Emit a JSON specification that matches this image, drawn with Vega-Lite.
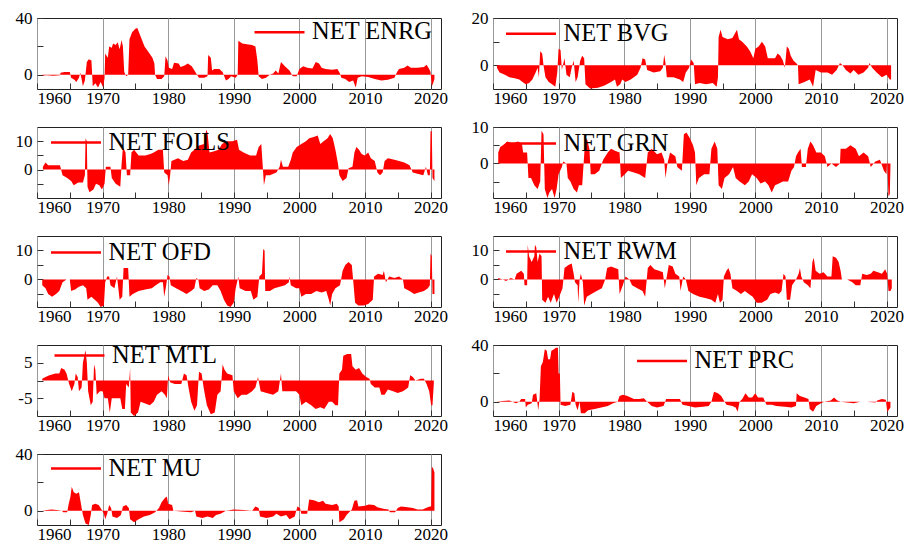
{
"$schema":"https://vega.github.io/schema/vega-lite/v6.json",
"background":"white",
"padding":{"left":14,"top":5,"right":5,"bottom":2},
"config":{
 "view":{"stroke":"#222","strokeWidth":1},
 "font":"Liberation Serif",
 "axis":{"labelFont":"Liberation Serif","labelFontSize":17,"labelColor":"#000","domain":false,"tickColor":"#333","tickSize":-6,"title":null,"grid":false},
 "axisX":{"labelPadding":7},
 "axisY":{"labelPadding":11},
 "legend":{"orient":"none","title":null,"symbolType":"stroke","symbolSize":2500,"symbolStrokeWidth":2.5,"labelFont":"Liberation Serif","labelFontSize":24.5,"labelColor":"#000","labelOffset":6,"padding":0,"labelLimit":300}
},
"resolve":{"scale":{"color":"independent","y":"independent"},"legend":{"color":"independent"}},
"datasets":{
"ENRG":[{"t":1960.8,"v":-0.5},{"t":1961.5,"v":-0.3},{"t":1962.5,"v":-0.6},{"t":1963.5,"v":-0.4},{"t":1963.6,"v":1.5},{"t":1964.2,"v":2},{"t":1965,"v":2},{"t":1965.2,"v":-2},{"t":1965.7,"v":-3.5},{"t":1966,"v":-5},{"t":1966.4,"v":-2},{"t":1966.6,"v":1.5},{"t":1966.8,"v":-3},{"t":1967,"v":-8},{"t":1967.3,"v":-4},{"t":1967.6,"v":9},{"t":1967.9,"v":11},{"t":1968.3,"v":10},{"t":1968.5,"v":-8},{"t":1968.9,"v":-6},{"t":1969.3,"v":-9},{"t":1969.7,"v":-5},{"t":1970.1,"v":-9},{"t":1970.3,"v":-2},{"t":1970.4,"v":15},{"t":1970.8,"v":12},{"t":1971,"v":20},{"t":1971.4,"v":19},{"t":1971.6,"v":22},{"t":1972,"v":21},{"t":1972.3,"v":23},{"t":1972.6,"v":18},{"t":1972.9,"v":24.5},{"t":1973.1,"v":20},{"t":1973.3,"v":2},{"t":1973.6,"v":-1},{"t":1973.9,"v":0},{"t":1974.1,"v":25},{"t":1974.5,"v":30},{"t":1975,"v":32.5},{"t":1975.3,"v":33},{"t":1975.8,"v":27},{"t":1976.4,"v":20},{"t":1977,"v":16},{"t":1977.6,"v":12},{"t":1977.9,"v":8},{"t":1978,"v":0},{"t":1978.3,"v":-3},{"t":1979,"v":-3},{"t":1979.4,"v":-1},{"t":1979.6,"v":13},{"t":1979.9,"v":10},{"t":1980.1,"v":5},{"t":1980.6,"v":4},{"t":1980.9,"v":8.5},{"t":1981.6,"v":8},{"t":1981.9,"v":5.5},{"t":1982.5,"v":6.5},{"t":1983,"v":8},{"t":1983.6,"v":6},{"t":1984,"v":3},{"t":1984.4,"v":0},{"t":1984.7,"v":-2},{"t":1985.5,"v":-2},{"t":1986,"v":-1},{"t":1986.1,"v":14},{"t":1986.5,"v":12},{"t":1986.7,"v":3},{"t":1987,"v":4},{"t":1987.8,"v":4},{"t":1988.3,"v":2},{"t":1988.8,"v":-4},{"t":1989.2,"v":-3},{"t":1989.6,"v":-1},{"t":1990.3,"v":-2},{"t":1990.6,"v":0},{"t":1990.7,"v":24},{"t":1991.3,"v":22},{"t":1992,"v":21.5},{"t":1992.8,"v":21},{"t":1993.3,"v":20},{"t":1993.6,"v":10},{"t":1993.8,"v":-1},{"t":1994.3,"v":-3},{"t":1994.9,"v":-2},{"t":1995.5,"v":0},{"t":1996,"v":1},{"t":1996.4,"v":3},{"t":1996.8,"v":1},{"t":1997.2,"v":9},{"t":1997.8,"v":6},{"t":1998.5,"v":3},{"t":1999,"v":-1},{"t":1999.6,"v":-1},{"t":2000,"v":4},{"t":2000.6,"v":6},{"t":2001.2,"v":5},{"t":2002,"v":4.5},{"t":2002.5,"v":9},{"t":2003,"v":8},{"t":2003.4,"v":5},{"t":2004,"v":4},{"t":2005,"v":3.5},{"t":2005.8,"v":4},{"t":2006.2,"v":1},{"t":2006.4,"v":-2},{"t":2007,"v":-3},{"t":2007.6,"v":-5},{"t":2008.2,"v":-4},{"t":2008.6,"v":-9},{"t":2008.9,"v":-2},{"t":2009.5,"v":-1},{"t":2010.5,"v":-1.5},{"t":2011.5,"v":-3},{"t":2012.5,"v":-4},{"t":2013.5,"v":-3.5},{"t":2014.5,"v":-2},{"t":2014.9,"v":2},{"t":2015.2,"v":4},{"t":2016,"v":5},{"t":2016.5,"v":6.5},{"t":2017,"v":5},{"t":2018,"v":5},{"t":2019,"v":5.5},{"t":2019.4,"v":7},{"t":2019.8,"v":4},{"t":2020,"v":2},{"t":2020.2,"v":-8},{"t":2020.4,"v":-6},{"t":2020.6,"v":-3}],
"BVG":[{"t":1960.6,"v":-1},{"t":1961,"v":-3},{"t":1961.8,"v":-4},{"t":1962.5,"v":-5},{"t":1963.3,"v":-5.5},{"t":1964,"v":-6},{"t":1964.5,"v":-7},{"t":1965,"v":-8},{"t":1965.5,"v":-7.5},{"t":1966,"v":-6},{"t":1966.5,"v":-3},{"t":1966.8,"v":-1},{"t":1967,"v":-5},{"t":1967.2,"v":6},{"t":1967.5,"v":5},{"t":1967.7,"v":0},{"t":1968,"v":-5},{"t":1968.5,"v":-7},{"t":1969,"v":-8},{"t":1969.5,"v":-9},{"t":1969.8,"v":-3},{"t":1970,"v":7},{"t":1970.3,"v":6.5},{"t":1970.5,"v":-2},{"t":1970.9,"v":3},{"t":1971.2,"v":-4},{"t":1971.7,"v":-5},{"t":1972,"v":-1},{"t":1972.3,"v":2},{"t":1972.6,"v":-7},{"t":1972.9,"v":-5},{"t":1973.3,"v":2},{"t":1973.6,"v":4},{"t":1973.9,"v":3},{"t":1974.1,"v":-8},{"t":1974.8,"v":-9.8},{"t":1976,"v":-9.5},{"t":1977,"v":-8.5},{"t":1978,"v":-7},{"t":1978.6,"v":-6},{"t":1978.9,"v":-9},{"t":1979.4,"v":-8},{"t":1979.7,"v":-6},{"t":1980.2,"v":-7},{"t":1981,"v":-6},{"t":1982,"v":-4},{"t":1982.5,"v":-1},{"t":1982.8,"v":3},{"t":1983.2,"v":2.5},{"t":1983.5,"v":-2},{"t":1984.5,"v":-3},{"t":1985.5,"v":-2.5},{"t":1985.9,"v":-1},{"t":1986.1,"v":4.5},{"t":1986.3,"v":1},{"t":1986.5,"v":-5},{"t":1987.5,"v":-5},{"t":1988.5,"v":-6},{"t":1989,"v":-7},{"t":1989.4,"v":-3},{"t":1989.9,"v":-1},{"t":1990.2,"v":2.5},{"t":1990.6,"v":1},{"t":1990.8,"v":-8},{"t":1991.5,"v":-7.5},{"t":1992.5,"v":-8},{"t":1993.5,"v":-7.5},{"t":1994.1,"v":-9},{"t":1994.3,"v":-5},{"t":1994.4,"v":12},{"t":1994.7,"v":15},{"t":1995,"v":12},{"t":1995.8,"v":11},{"t":1996.5,"v":11.5},{"t":1997.2,"v":15},{"t":1997.5,"v":11},{"t":1998,"v":10},{"t":1998.7,"v":8},{"t":1999.2,"v":6},{"t":1999.7,"v":3},{"t":2000,"v":7},{"t":2000.5,"v":8},{"t":2001,"v":10},{"t":2001.5,"v":8},{"t":2001.9,"v":3},{"t":2002.5,"v":3},{"t":2003,"v":3},{"t":2003.4,"v":5},{"t":2003.8,"v":4},{"t":2004.2,"v":2},{"t":2004.5,"v":-1},{"t":2004.8,"v":8},{"t":2005.1,"v":7},{"t":2005.4,"v":4},{"t":2005.8,"v":2},{"t":2006.2,"v":1},{"t":2006.5,"v":0},{"t":2006.6,"v":-8},{"t":2007.5,"v":-7},{"t":2008.3,"v":-6},{"t":2008.8,"v":-9},{"t":2009.2,"v":-2},{"t":2010,"v":-3},{"t":2011,"v":-3},{"t":2011.7,"v":-4},{"t":2012.4,"v":-2},{"t":2012.9,"v":1},{"t":2013.3,"v":0},{"t":2013.8,"v":-2},{"t":2014.5,"v":-3.5},{"t":2015,"v":-2},{"t":2015.7,"v":-4},{"t":2016.5,"v":-3},{"t":2017.2,"v":-1},{"t":2017.4,"v":1},{"t":2017.8,"v":-1},{"t":2018.5,"v":-3},{"t":2019.3,"v":-5},{"t":2020,"v":-4},{"t":2020.5,"v":-6},{"t":2020.7,"v":-6}],
"FOILS":[{"t":1960.9,"v":1},{"t":1961.3,"v":2.5},{"t":1961.7,"v":1.5},{"t":1962.5,"v":1.5},{"t":1963.5,"v":1.5},{"t":1963.9,"v":-2},{"t":1964.6,"v":-3},{"t":1965.2,"v":-4},{"t":1965.6,"v":-5.5},{"t":1966.3,"v":-4.5},{"t":1967,"v":-4.5},{"t":1967.3,"v":-2},{"t":1967.4,"v":11},{"t":1967.6,"v":10},{"t":1967.7,"v":-6},{"t":1968,"v":-8},{"t":1968.6,"v":-7},{"t":1969,"v":-5},{"t":1969.5,"v":-5.5},{"t":1969.9,"v":-7},{"t":1970.3,"v":-5},{"t":1970.5,"v":1},{"t":1971.2,"v":1},{"t":1971.4,"v":-3},{"t":1972,"v":-5},{"t":1972.7,"v":-6},{"t":1972.9,"v":2},{"t":1973.1,"v":8},{"t":1973.5,"v":6},{"t":1973.7,"v":-2},{"t":1974.2,"v":-2},{"t":1974.4,"v":6},{"t":1974.8,"v":7},{"t":1975.5,"v":5},{"t":1976.5,"v":5},{"t":1977.3,"v":5.5},{"t":1977.8,"v":6},{"t":1978.5,"v":7},{"t":1979.2,"v":7},{"t":1979.4,"v":-1},{"t":1979.9,"v":-2},{"t":1980.1,"v":-5.5},{"t":1980.3,"v":-2},{"t":1980.5,"v":3},{"t":1981.5,"v":4},{"t":1982.3,"v":3},{"t":1983,"v":3.5},{"t":1983.5,"v":6},{"t":1984,"v":7},{"t":1984.7,"v":8.5},{"t":1985.5,"v":9},{"t":1985.8,"v":14},{"t":1986,"v":13},{"t":1986.3,"v":6},{"t":1987,"v":6.5},{"t":1987.7,"v":7},{"t":1988.2,"v":9},{"t":1989,"v":10},{"t":1989.8,"v":10},{"t":1990.5,"v":10.5},{"t":1990.8,"v":7},{"t":1991.5,"v":6},{"t":1992.5,"v":5},{"t":1993.4,"v":5},{"t":1993.8,"v":8},{"t":1994.2,"v":9},{"t":1994.4,"v":2},{"t":1994.6,"v":-5.5},{"t":1994.9,"v":-2},{"t":1995.5,"v":-2},{"t":1996.5,"v":-1},{"t":1997,"v":1},{"t":1997.2,"v":3.5},{"t":1997.5,"v":1},{"t":1998.3,"v":1},{"t":1998.7,"v":3.5},{"t":1999,"v":6},{"t":1999.6,"v":8},{"t":2000.3,"v":9},{"t":2001,"v":10},{"t":2001.5,"v":11},{"t":2002.2,"v":11.5},{"t":2002.8,"v":12},{"t":2003.2,"v":9},{"t":2003.7,"v":10},{"t":2004.3,"v":11},{"t":2004.7,"v":12.5},{"t":2005.1,"v":11},{"t":2005.5,"v":7},{"t":2005.9,"v":2},{"t":2006.1,"v":-2},{"t":2006.6,"v":-4},{"t":2007.2,"v":-3},{"t":2007.5,"v":0.5},{"t":2008.1,"v":1},{"t":2008.4,"v":6},{"t":2008.7,"v":8},{"t":2009.1,"v":7},{"t":2009.5,"v":5.5},{"t":2010,"v":5},{"t":2010.5,"v":6},{"t":2010.9,"v":4},{"t":2011.5,"v":3},{"t":2011.9,"v":-1},{"t":2012.3,"v":-2},{"t":2012.7,"v":-1},{"t":2013,"v":3},{"t":2013.5,"v":4},{"t":2014.5,"v":3.5},{"t":2015.2,"v":3},{"t":2016,"v":2.5},{"t":2016.8,"v":1.5},{"t":2017.3,"v":-1},{"t":2018,"v":-1.5},{"t":2018.9,"v":-2},{"t":2019.3,"v":1},{"t":2019.6,"v":-2},{"t":2019.9,"v":-2},{"t":2020,"v":13.5},{"t":2020.2,"v":13.5},{"t":2020.3,"v":-3},{"t":2020.6,"v":-4}],
"GRN":[{"t":1960.8,"v":3},{"t":1961.1,"v":4.5},{"t":1961.5,"v":5},{"t":1962.2,"v":6},{"t":1963,"v":5.5},{"t":1963.8,"v":6},{"t":1964.4,"v":5.5},{"t":1964.6,"v":3},{"t":1965.2,"v":3},{"t":1965.4,"v":-4},{"t":1965.8,"v":-4},{"t":1966.3,"v":-6},{"t":1966.8,"v":-7},{"t":1967.2,"v":-5},{"t":1967.4,"v":9},{"t":1967.7,"v":8},{"t":1967.9,"v":-7},{"t":1968.3,"v":-9.5},{"t":1968.6,"v":-8},{"t":1969,"v":-7},{"t":1969.4,"v":-9.5},{"t":1969.7,"v":-7},{"t":1970,"v":-3},{"t":1970.5,"v":-1},{"t":1970.7,"v":0.5},{"t":1971.2,"v":0},{"t":1971.4,"v":-4},{"t":1971.8,"v":-5},{"t":1972.3,"v":-7},{"t":1972.8,"v":-8},{"t":1973.1,"v":-6},{"t":1973.6,"v":-6},{"t":1974,"v":5},{"t":1974.3,"v":7},{"t":1974.7,"v":4},{"t":1974.9,"v":-3},{"t":1975.5,"v":-3},{"t":1976.2,"v":-2},{"t":1976.8,"v":1},{"t":1977.5,"v":3},{"t":1978,"v":4},{"t":1978.6,"v":3.5},{"t":1979.3,"v":3},{"t":1979.5,"v":-4},{"t":1980.1,"v":-3},{"t":1980.6,"v":-2},{"t":1981.5,"v":-2.5},{"t":1982.3,"v":-3},{"t":1983.2,"v":-4},{"t":1983.6,"v":3},{"t":1984.2,"v":4},{"t":1985,"v":2.5},{"t":1985.7,"v":3},{"t":1986.1,"v":1},{"t":1986.3,"v":-4},{"t":1986.6,"v":0},{"t":1987,"v":3},{"t":1987.8,"v":2},{"t":1988.1,"v":-1},{"t":1988.8,"v":-2},{"t":1989.1,"v":8},{"t":1989.5,"v":8.5},{"t":1990,"v":7},{"t":1990.5,"v":5},{"t":1990.8,"v":3},{"t":1991,"v":-6},{"t":1991.4,"v":-4},{"t":1992.2,"v":-3},{"t":1993,"v":-3},{"t":1993.3,"v":4},{"t":1993.8,"v":6},{"t":1994.2,"v":4},{"t":1994.4,"v":-6},{"t":1994.9,"v":-7},{"t":1995.3,"v":-4},{"t":1996,"v":-3},{"t":1996.6,"v":-1},{"t":1997,"v":-4},{"t":1997.6,"v":-5},{"t":1998.4,"v":-6},{"t":1999,"v":-5},{"t":1999.5,"v":-3},{"t":2000.2,"v":-4},{"t":2000.8,"v":-5.5},{"t":2001.5,"v":-5},{"t":2002,"v":-6},{"t":2002.5,"v":-8},{"t":2003,"v":-6},{"t":2003.6,"v":-5.5},{"t":2004.2,"v":-5},{"t":2005,"v":-5},{"t":2005.5,"v":-2},{"t":2005.9,"v":-1},{"t":2006.2,"v":2},{"t":2006.5,"v":3},{"t":2006.9,"v":4},{"t":2007.1,"v":-1},{"t":2007.7,"v":-1},{"t":2008,"v":4},{"t":2008.4,"v":6},{"t":2008.8,"v":5},{"t":2009.3,"v":3},{"t":2010,"v":3},{"t":2010.6,"v":2},{"t":2011,"v":-1},{"t":2011.6,"v":0},{"t":2012.3,"v":-1},{"t":2012.9,"v":0},{"t":2013,"v":4},{"t":2013.8,"v":4},{"t":2014.5,"v":5},{"t":2015.3,"v":4},{"t":2015.8,"v":2},{"t":2016.5,"v":3},{"t":2017.2,"v":2},{"t":2017.6,"v":-1},{"t":2018.3,"v":0.5},{"t":2019,"v":1},{"t":2019.6,"v":-2},{"t":2020,"v":-3},{"t":2020.1,"v":1},{"t":2020.3,"v":-9},{"t":2020.5,"v":-8.5},{"t":2020.6,"v":-1}],
"OFD":[{"t":1960.8,"v":-2},{"t":1961.3,"v":-3},{"t":1961.7,"v":-5},{"t":1962.3,"v":-6},{"t":1962.9,"v":-5},{"t":1963.4,"v":-4},{"t":1963.9,"v":-1},{"t":1964.5,"v":0},{"t":1965,"v":0},{"t":1965.2,"v":-4},{"t":1965.8,"v":-3.5},{"t":1966.4,"v":-2.5},{"t":1967,"v":-2},{"t":1967.5,"v":-3},{"t":1967.7,"v":-7},{"t":1968.3,"v":-6},{"t":1968.8,"v":-7},{"t":1969.3,"v":-8},{"t":1969.7,"v":-9.5},{"t":1970.2,"v":-9},{"t":1970.4,"v":-1},{"t":1970.7,"v":1},{"t":1971,"v":1},{"t":1971.2,"v":-2},{"t":1971.8,"v":-3},{"t":1972.2,"v":1},{"t":1972.4,"v":-3},{"t":1972.6,"v":-7},{"t":1973,"v":-6},{"t":1973.2,"v":4},{"t":1973.9,"v":4},{"t":1974.1,"v":-6},{"t":1974.6,"v":-5},{"t":1975.5,"v":-4},{"t":1976.5,"v":-3.5},{"t":1977.5,"v":-3},{"t":1978.1,"v":-2},{"t":1978.8,"v":-1},{"t":1979.2,"v":-1},{"t":1979.4,"v":-6},{"t":1979.7,"v":-2},{"t":1979.9,"v":1.5},{"t":1980.2,"v":1},{"t":1980.4,"v":-2},{"t":1981.2,"v":-3},{"t":1982,"v":-4},{"t":1982.8,"v":-5},{"t":1983.5,"v":-4},{"t":1984,"v":-3},{"t":1984.3,"v":0.5},{"t":1984.6,"v":0},{"t":1984.8,"v":-3},{"t":1985.5,"v":-4},{"t":1986.2,"v":-3.5},{"t":1986.8,"v":-2},{"t":1987.5,"v":-2},{"t":1988,"v":-4},{"t":1988.5,"v":-7},{"t":1989,"v":-9},{"t":1989.5,"v":-9.5},{"t":1990,"v":-8},{"t":1990.3,"v":-3},{"t":1990.7,"v":1},{"t":1990.9,"v":-3},{"t":1991.8,"v":-4},{"t":1992.6,"v":-4},{"t":1993,"v":-7},{"t":1993.6,"v":-6},{"t":1993.9,"v":1},{"t":1994.3,"v":2},{"t":1994.5,"v":10.5},{"t":1994.7,"v":10},{"t":1994.8,"v":-4},{"t":1995.5,"v":-4},{"t":1996.2,"v":-3},{"t":1997,"v":-2.5},{"t":1997.8,"v":-2},{"t":1998.4,"v":-1},{"t":1998.5,"v":1},{"t":1998.7,"v":-2},{"t":1999.5,"v":-3},{"t":2000,"v":-3},{"t":2000.3,"v":-6},{"t":2001,"v":-5},{"t":2001.8,"v":-5},{"t":2002.6,"v":-4},{"t":2003.4,"v":-4.5},{"t":2004.1,"v":-4},{"t":2004.5,"v":-7},{"t":2004.7,"v":-9},{"t":2005,"v":-5},{"t":2005.5,"v":-3},{"t":2006.2,"v":-2},{"t":2006.6,"v":3},{"t":2007,"v":5},{"t":2007.5,"v":6},{"t":2008,"v":5},{"t":2008.2,"v":0},{"t":2008.5,"v":-8},{"t":2009,"v":-9},{"t":2009.8,"v":-9},{"t":2010.5,"v":-8.5},{"t":2011.2,"v":-7},{"t":2011.4,"v":1},{"t":2012,"v":2},{"t":2012.7,"v":1.5},{"t":2012.9,"v":3},{"t":2013.2,"v":-1},{"t":2013.7,"v":1},{"t":2014.5,"v":0.5},{"t":2015.2,"v":1},{"t":2015.8,"v":0},{"t":2016,"v":-3},{"t":2016.8,"v":-4},{"t":2017.5,"v":-5},{"t":2018.2,"v":-4.5},{"t":2019,"v":-4},{"t":2019.6,"v":-3},{"t":2019.9,"v":-2},{"t":2020,"v":9},{"t":2020.2,"v":8},{"t":2020.3,"v":-5},{"t":2020.6,"v":-5}],
"RWM":[{"t":1960.8,"v":0.5},{"t":1961.5,"v":0},{"t":1962,"v":-0.5},{"t":1962.7,"v":0.5},{"t":1963.3,"v":0},{"t":1963.6,"v":2},{"t":1964.3,"v":3},{"t":1964.7,"v":2},{"t":1964.8,"v":-2},{"t":1965.2,"v":-2},{"t":1965.3,"v":12},{"t":1965.5,"v":8},{"t":1965.9,"v":6},{"t":1966.3,"v":8},{"t":1966.4,"v":12},{"t":1966.6,"v":11},{"t":1966.8,"v":6},{"t":1967.1,"v":9},{"t":1967.4,"v":8},{"t":1967.5,"v":-7},{"t":1968,"v":-8},{"t":1968.4,"v":-6},{"t":1968.8,"v":-8},{"t":1969.3,"v":-5},{"t":1969.7,"v":-8},{"t":1970.1,"v":-6},{"t":1970.6,"v":-3},{"t":1970.9,"v":4},{"t":1971.5,"v":5},{"t":1972,"v":5.5},{"t":1972.3,"v":2},{"t":1972.5,"v":-1},{"t":1972.9,"v":-2},{"t":1973,"v":-8},{"t":1973.2,"v":0},{"t":1973.4,"v":2},{"t":1973.7,"v":-1},{"t":1973.9,"v":-9},{"t":1974.3,"v":-6},{"t":1975,"v":-5},{"t":1975.8,"v":-4},{"t":1976.6,"v":-3},{"t":1977.1,"v":0},{"t":1977.4,"v":4},{"t":1978,"v":4.5},{"t":1978.6,"v":4},{"t":1979.1,"v":3.5},{"t":1979.3,"v":-5},{"t":1979.8,"v":-2},{"t":1980.2,"v":1},{"t":1980.8,"v":0},{"t":1981.2,"v":-2},{"t":1982,"v":-3},{"t":1982.8,"v":-4},{"t":1983.2,"v":-6},{"t":1983.6,"v":4},{"t":1984,"v":5},{"t":1984.6,"v":3.5},{"t":1985.3,"v":3},{"t":1985.9,"v":2.5},{"t":1986.2,"v":-3},{"t":1986.5,"v":1},{"t":1986.8,"v":5},{"t":1987.4,"v":4.5},{"t":1987.8,"v":2},{"t":1988.4,"v":1},{"t":1988.6,"v":-4},{"t":1989,"v":1},{"t":1989.4,"v":0},{"t":1989.8,"v":-4},{"t":1990.5,"v":-5},{"t":1991.5,"v":-6},{"t":1992.5,"v":-6.5},{"t":1993.3,"v":-7},{"t":1993.9,"v":-8},{"t":1994.3,"v":-5},{"t":1994.6,"v":-8},{"t":1995,"v":-7},{"t":1995.2,"v":1},{"t":1995.6,"v":3},{"t":1995.9,"v":4},{"t":1996.2,"v":2},{"t":1996.5,"v":-3},{"t":1997.2,"v":-4},{"t":1997.8,"v":-5},{"t":1998.4,"v":-4},{"t":1999,"v":-5},{"t":1999.6,"v":-6},{"t":2000.2,"v":-8},{"t":2001,"v":-8},{"t":2001.8,"v":-7},{"t":2002.3,"v":-5},{"t":2003,"v":-4.5},{"t":2003.6,"v":-5},{"t":2004,"v":-4},{"t":2004.3,"v":2},{"t":2004.6,"v":1},{"t":2004.8,"v":-7},{"t":2005.3,"v":-7},{"t":2005.6,"v":-2},{"t":2006.2,"v":0},{"t":2006.6,"v":2},{"t":2006.8,"v":4},{"t":2007,"v":1},{"t":2007.4,"v":-1},{"t":2008,"v":-2},{"t":2008.4,"v":-3},{"t":2008.7,"v":6},{"t":2008.9,"v":7.5},{"t":2009.2,"v":3},{"t":2009.8,"v":2},{"t":2010.4,"v":2.5},{"t":2011,"v":1},{"t":2011.6,"v":1},{"t":2011.8,"v":8},{"t":2012.3,"v":7.5},{"t":2012.7,"v":6},{"t":2013,"v":3},{"t":2013.2,"v":0},{"t":2014,"v":0},{"t":2014.8,"v":-1},{"t":2015.3,"v":-2},{"t":2016,"v":-2},{"t":2016.3,"v":2},{"t":2017,"v":1.5},{"t":2017.6,"v":2},{"t":2018,"v":3},{"t":2018.7,"v":2.5},{"t":2019.3,"v":2},{"t":2019.8,"v":3.5},{"t":2020.1,"v":2},{"t":2020.3,"v":-4},{"t":2020.6,"v":-4},{"t":2020.8,"v":-3}],
"MTL":[{"t":1960.8,"v":0.5},{"t":1961.3,"v":1},{"t":1961.9,"v":1.5},{"t":1962.8,"v":2},{"t":1963.4,"v":2},{"t":1963.7,"v":3.5},{"t":1964.2,"v":3},{"t":1964.5,"v":2},{"t":1964.9,"v":-1},{"t":1965.3,"v":-3},{"t":1965.7,"v":-1},{"t":1965.9,"v":2},{"t":1966.2,"v":1},{"t":1966.4,"v":-3},{"t":1966.8,"v":-2},{"t":1967,"v":5},{"t":1967.4,"v":8.5},{"t":1967.6,"v":5},{"t":1967.8,"v":-3},{"t":1968.2,"v":-7},{"t":1968.5,"v":-6},{"t":1968.7,"v":4.5},{"t":1968.9,"v":3},{"t":1969.1,"v":-4},{"t":1969.6,"v":-3},{"t":1970,"v":-3},{"t":1970.3,"v":-5},{"t":1970.8,"v":-5},{"t":1971.1,"v":-9},{"t":1971.4,"v":-5},{"t":1972,"v":-5},{"t":1972.7,"v":-5},{"t":1973,"v":-8},{"t":1973.4,"v":-8},{"t":1973.6,"v":-1},{"t":1974,"v":-2},{"t":1974.2,"v":3.5},{"t":1974.3,"v":-9},{"t":1974.8,"v":-10},{"t":1975.4,"v":-9},{"t":1975.8,"v":-6},{"t":1976.5,"v":-6.5},{"t":1977.2,"v":-7},{"t":1977.8,"v":-6},{"t":1978.3,"v":-4},{"t":1979,"v":-3},{"t":1979.5,"v":-4},{"t":1979.8,"v":-5},{"t":1980,"v":1.5},{"t":1980.3,"v":-0.5},{"t":1981,"v":-1},{"t":1982,"v":-1},{"t":1982.4,"v":2},{"t":1982.8,"v":1.5},{"t":1983.1,"v":-2},{"t":1983.5,"v":-6},{"t":1984,"v":-8.5},{"t":1984.4,"v":-7},{"t":1984.7,"v":2.5},{"t":1985.1,"v":2},{"t":1985.4,"v":-2},{"t":1985.9,"v":-7},{"t":1986.5,"v":-9.5},{"t":1987.1,"v":-9},{"t":1987.5,"v":-4},{"t":1988,"v":-3},{"t":1988.3,"v":4.5},{"t":1988.6,"v":3},{"t":1989,"v":2},{"t":1989.8,"v":1.5},{"t":1990,"v":-3},{"t":1990.6,"v":-5},{"t":1991.2,"v":-4},{"t":1992,"v":-4},{"t":1992.8,"v":-3},{"t":1993.3,"v":-2},{"t":1993.7,"v":1},{"t":1994.1,"v":-3},{"t":1995,"v":-3.5},{"t":1996,"v":-4},{"t":1996.8,"v":-3},{"t":1997.2,"v":2},{"t":1997.4,"v":-3},{"t":1998.5,"v":-3},{"t":1999.5,"v":-3},{"t":2000,"v":-4},{"t":2000.3,"v":-7},{"t":2001,"v":-6},{"t":2001.8,"v":-7},{"t":2002.5,"v":-8},{"t":2003.2,"v":-7.5},{"t":2003.8,"v":-8},{"t":2004.5,"v":-6},{"t":2005,"v":-6},{"t":2005.5,"v":-7},{"t":2005.9,"v":-7},{"t":2006.1,"v":2},{"t":2006.5,"v":3},{"t":2006.7,"v":7},{"t":2007.3,"v":7.5},{"t":2007.9,"v":7.5},{"t":2008.1,"v":4},{"t":2008.6,"v":3},{"t":2009.1,"v":3.5},{"t":2009.6,"v":2},{"t":2010.2,"v":1},{"t":2010.7,"v":0.5},{"t":2010.9,"v":-1},{"t":2011.5,"v":-2},{"t":2012.2,"v":-2},{"t":2012.5,"v":-4},{"t":2013,"v":-4},{"t":2013.5,"v":-2.5},{"t":2014.3,"v":-3},{"t":2015,"v":-3.5},{"t":2015.8,"v":-3},{"t":2016.6,"v":-2},{"t":2016.9,"v":1.5},{"t":2017.3,"v":1},{"t":2017.7,"v":0},{"t":2018.5,"v":0.5},{"t":2019,"v":0.5},{"t":2019.4,"v":-1},{"t":2019.8,"v":-3},{"t":2020.1,"v":-7},{"t":2020.3,"v":-7},{"t":2020.5,"v":-1}],
"PRC":[{"t":1960.5,"v":0},{"t":1961.5,"v":0.5},{"t":1962.5,"v":1},{"t":1963.5,"v":-1},{"t":1964,"v":0},{"t":1964.3,"v":2},{"t":1964.9,"v":2},{"t":1965,"v":-4},{"t":1965.3,"v":-2},{"t":1965.9,"v":-1},{"t":1966.1,"v":5},{"t":1966.6,"v":6},{"t":1966.9,"v":-6},{"t":1967.1,"v":2},{"t":1967.3,"v":25},{"t":1967.6,"v":28},{"t":1967.9,"v":37},{"t":1968.2,"v":36},{"t":1968.4,"v":30},{"t":1968.7,"v":30},{"t":1968.9,"v":36},{"t":1969.3,"v":37},{"t":1969.6,"v":38},{"t":1969.9,"v":38},{"t":1970,"v":20},{"t":1970.2,"v":20},{"t":1970.3,"v":-2},{"t":1971,"v":-3},{"t":1971.8,"v":-2},{"t":1972.1,"v":7},{"t":1972.4,"v":6},{"t":1972.6,"v":-2},{"t":1972.9,"v":-6},{"t":1973.2,"v":0},{"t":1973.4,"v":-8},{"t":1974,"v":-8},{"t":1974.5,"v":-6},{"t":1975.5,"v":-5},{"t":1976.5,"v":-4},{"t":1977.5,"v":-3},{"t":1978.3,"v":-1},{"t":1979,"v":0},{"t":1979.3,"v":4},{"t":1979.8,"v":5},{"t":1980.5,"v":4},{"t":1981.5,"v":2},{"t":1982.3,"v":2},{"t":1983,"v":2.5},{"t":1983.5,"v":0},{"t":1984.2,"v":-3},{"t":1985,"v":-4},{"t":1986,"v":-3},{"t":1986.4,"v":2},{"t":1987.5,"v":2},{"t":1988.5,"v":2},{"t":1988.9,"v":-2},{"t":1989.8,"v":-3},{"t":1990.8,"v":-4},{"t":1992,"v":-3.5},{"t":1992.9,"v":-3},{"t":1993.3,"v":0},{"t":1993.7,"v":7},{"t":1994.3,"v":6},{"t":1994.8,"v":4},{"t":1995.2,"v":1},{"t":1995.6,"v":-2},{"t":1996.5,"v":-3},{"t":1997,"v":-4},{"t":1997.3,"v":-7},{"t":1997.6,"v":0},{"t":1998,"v":2},{"t":1998.5,"v":6},{"t":1999,"v":3},{"t":1999.5,"v":3},{"t":2000,"v":6},{"t":2000.4,"v":3},{"t":2001.2,"v":3},{"t":2001.7,"v":-2},{"t":2002.5,"v":-2},{"t":2003.2,"v":-3},{"t":2004.5,"v":-3.5},{"t":2005.5,"v":-4},{"t":2006.2,"v":-3},{"t":2006.3,"v":6},{"t":2006.8,"v":4},{"t":2007.5,"v":3},{"t":2008.1,"v":2},{"t":2008.3,"v":-5},{"t":2008.8,"v":-7},{"t":2009.3,"v":-3},{"t":2010,"v":-1},{"t":2010.5,"v":0},{"t":2011.5,"v":1},{"t":2012,"v":3},{"t":2012.5,"v":1},{"t":2013,"v":0},{"t":2014,"v":-0.5},{"t":2015,"v":-1},{"t":2016,"v":0},{"t":2017,"v":0},{"t":2018.3,"v":-0.5},{"t":2018.6,"v":1},{"t":2019.3,"v":2},{"t":2019.9,"v":1.5},{"t":2020.1,"v":-7},{"t":2020.3,"v":-6},{"t":2020.6,"v":-4}],
"MU":[{"t":1960.8,"v":0},{"t":1961.5,"v":0.5},{"t":1962.2,"v":1},{"t":1963,"v":0.5},{"t":1963.8,"v":0},{"t":1964,"v":-1},{"t":1964.6,"v":-1},{"t":1964.8,"v":4},{"t":1965.1,"v":10},{"t":1965.3,"v":17},{"t":1965.6,"v":13},{"t":1966,"v":12},{"t":1966.4,"v":13},{"t":1966.7,"v":5},{"t":1967,"v":-3},{"t":1967.4,"v":-9},{"t":1967.9,"v":-10},{"t":1968.2,"v":-3},{"t":1968.4,"v":4},{"t":1968.9,"v":5},{"t":1969.4,"v":4},{"t":1969.7,"v":2},{"t":1970.2,"v":-2},{"t":1970.4,"v":-6},{"t":1970.7,"v":-2},{"t":1971,"v":4},{"t":1971.3,"v":2},{"t":1971.5,"v":-4},{"t":1972.2,"v":-5},{"t":1972.8,"v":-3},{"t":1973.1,"v":3},{"t":1973.6,"v":4},{"t":1974,"v":2},{"t":1974.2,"v":-6},{"t":1974.8,"v":-8},{"t":1975.5,"v":-6},{"t":1976.3,"v":-4},{"t":1977.2,"v":-3},{"t":1978,"v":-1},{"t":1978.6,"v":2},{"t":1979,"v":6},{"t":1979.5,"v":9},{"t":1979.8,"v":10},{"t":1980,"v":5},{"t":1980.6,"v":4},{"t":1980.8,"v":0},{"t":1982,"v":-0.5},{"t":1983.5,"v":-1},{"t":1984.1,"v":0},{"t":1984.3,"v":-4},{"t":1985.2,"v":-5},{"t":1986,"v":-4},{"t":1986.8,"v":-5},{"t":1987.3,"v":-3},{"t":1988,"v":-2},{"t":1988.8,"v":0},{"t":1990,"v":1},{"t":1991.5,"v":0.5},{"t":1992.8,"v":0},{"t":1993.3,"v":3},{"t":1993.8,"v":2},{"t":1994,"v":-4},{"t":1995,"v":-5},{"t":1996,"v":-4},{"t":1996.5,"v":-2},{"t":1997.2,"v":-4},{"t":1998,"v":-3},{"t":1998.5,"v":-6},{"t":1999.3,"v":-4},{"t":1999.7,"v":3},{"t":2000.1,"v":2},{"t":2000.3,"v":-2},{"t":2001.2,"v":-2},{"t":2001.5,"v":8},{"t":2002.2,"v":7.5},{"t":2003,"v":6},{"t":2003.6,"v":7},{"t":2004,"v":5},{"t":2005,"v":4},{"t":2005.7,"v":5},{"t":2006,"v":3},{"t":2006.1,"v":-8},{"t":2006.8,"v":-6},{"t":2007.2,"v":-3},{"t":2007.6,"v":-1},{"t":2008,"v":1},{"t":2008.4,"v":7},{"t":2008.8,"v":7.5},{"t":2009,"v":3},{"t":2010,"v":3.5},{"t":2010.6,"v":4.5},{"t":2011.4,"v":4},{"t":2011.9,"v":2.5},{"t":2012.8,"v":1.5},{"t":2013.6,"v":1},{"t":2013.8,"v":-1},{"t":2014.6,"v":-1},{"t":2015,"v":2},{"t":2015.5,"v":3},{"t":2016.5,"v":2.5},{"t":2017.3,"v":2},{"t":2018,"v":1},{"t":2018.8,"v":1},{"t":2019.3,"v":2},{"t":2019.9,"v":3},{"t":2020.1,"v":3},{"t":2020.2,"v":31},{"t":2020.4,"v":30},{"t":2020.6,"v":27}]
},
"columns":2,
"spacing":{"row":38,"column":52},
"bounds":"flush",
"concat":[
{"width":404,"height":71,"data":{"name":"ENRG"},"mark":{"type":"area","clip":true},
 "encoding":{
  "x":{"field":"t","type":"quantitative","scale":{"domain":[1960,2021.6],"nice":false,"zero":false},"axis":{"values":[1960,1965,1970,1975,1980,1985,1990,1995,2000,2005,2010,2015,2020],"labelExpr":"datum.value % 10 == 0 ? '' + datum.value : ''","grid":true,"gridColor":{"condition":{"test":"datum.value % 10 != 0","value":"transparent"},"value":"#999999"}}},
  "y":{"field":"v","type":"quantitative","scale":{"domain":[-10,40],"nice":false,"zero":false},"axis":{"values":[0,20,40],"labelExpr":"datum.value == 20 ? '' : '' + datum.value"}},
  "y2":{"datum":0},
  "color":{"datum":"NET ENRG","scale":{"range":["#ff0000"]},"legend":{"legendX":216,"legendY":-12.3,"encode":{"symbols":{"update":{"stroke":{"value":"#ff0000"},"strokeWidth":{"value":2.5}}}}}}}},
{"width":404,"height":71,"data":{"name":"BVG"},"mark":{"type":"area","clip":true},
 "encoding":{
  "x":{"field":"t","type":"quantitative","scale":{"domain":[1960,2021.6],"nice":false,"zero":false},"axis":{"values":[1960,1965,1970,1975,1980,1985,1990,1995,2000,2005,2010,2015,2020],"labelExpr":"datum.value % 10 == 0 ? '' + datum.value : ''","grid":true,"gridColor":{"condition":{"test":"datum.value % 10 != 0","value":"transparent"},"value":"#999999"}}},
  "y":{"field":"v","type":"quantitative","scale":{"domain":[-10,20],"nice":false,"zero":false},"axis":{"values":[0,10,20],"labelExpr":"datum.value == 10 ? '' : '' + datum.value"}},
  "y2":{"datum":0},
  "color":{"datum":"NET BVG","scale":{"range":["#ff0000"]},"legend":{"legendX":11.5,"legendY":-10.7,"encode":{"symbols":{"update":{"stroke":{"value":"#ff0000"},"strokeWidth":{"value":2.5}}}}}}}},
{"width":404,"height":71,"data":{"name":"FOILS"},"mark":{"type":"area","clip":true},
 "encoding":{
  "x":{"field":"t","type":"quantitative","scale":{"domain":[1960,2021.6],"nice":false,"zero":false},"axis":{"values":[1960,1965,1970,1975,1980,1985,1990,1995,2000,2005,2010,2015,2020],"labelExpr":"datum.value % 10 == 0 ? '' + datum.value : ''","grid":true,"gridColor":{"condition":{"test":"datum.value % 10 != 0","value":"transparent"},"value":"#999999"}}},
  "y":{"field":"v","type":"quantitative","scale":{"domain":[-10,15],"nice":false,"zero":false},"axis":{"values":[-5,0,5,10],"labelExpr":"datum.value == 0 || datum.value == 10 ? '' + datum.value : ''"}},
  "y2":{"datum":0},
  "color":{"datum":"NET FOILS","scale":{"range":["#ff0000"]},"legend":{"legendX":12.5,"legendY":-11,"encode":{"symbols":{"update":{"stroke":{"value":"#ff0000"},"strokeWidth":{"value":2.5}}}}}}}},
{"width":404,"height":71,"data":{"name":"GRN"},"mark":{"type":"area","clip":true},
 "encoding":{
  "x":{"field":"t","type":"quantitative","scale":{"domain":[1960,2021.6],"nice":false,"zero":false},"axis":{"values":[1960,1965,1970,1975,1980,1985,1990,1995,2000,2005,2010,2015,2020],"labelExpr":"datum.value % 10 == 0 ? '' + datum.value : ''","grid":true,"gridColor":{"condition":{"test":"datum.value % 10 != 0","value":"transparent"},"value":"#999999"}}},
  "y":{"field":"v","type":"quantitative","scale":{"domain":[-9.5,10],"nice":false,"zero":false},"axis":{"values":[-5,0,5,10],"labelExpr":"datum.value == 0 || datum.value == 10 ? '' + datum.value : ''"}},
  "y2":{"datum":0},
  "color":{"datum":"NET GRN","scale":{"range":["#ff0000"]},"legend":{"legendX":11.5,"legendY":-10,"encode":{"symbols":{"update":{"stroke":{"value":"#ff0000"},"strokeWidth":{"value":2.5}}}}}}}},
{"width":404,"height":71,"data":{"name":"OFD"},"mark":{"type":"area","clip":true},
 "encoding":{
  "x":{"field":"t","type":"quantitative","scale":{"domain":[1960,2021.6],"nice":false,"zero":false},"axis":{"values":[1960,1965,1970,1975,1980,1985,1990,1995,2000,2005,2010,2015,2020],"labelExpr":"datum.value % 10 == 0 ? '' + datum.value : ''","grid":true,"gridColor":{"condition":{"test":"datum.value % 10 != 0","value":"transparent"},"value":"#999999"}}},
  "y":{"field":"v","type":"quantitative","scale":{"domain":[-9.5,15],"nice":false,"zero":false},"axis":{"values":[-5,0,5,10],"labelExpr":"datum.value == 0 || datum.value == 10 ? '' + datum.value : ''"}},
  "y2":{"datum":0},
  "color":{"datum":"NET OFD","scale":{"range":["#ff0000"]},"legend":{"legendX":12.5,"legendY":-10,"encode":{"symbols":{"update":{"stroke":{"value":"#ff0000"},"strokeWidth":{"value":2.5}}}}}}}},
{"width":404,"height":71,"data":{"name":"RWM"},"mark":{"type":"area","clip":true},
 "encoding":{
  "x":{"field":"t","type":"quantitative","scale":{"domain":[1960,2021.6],"nice":false,"zero":false},"axis":{"values":[1960,1965,1970,1975,1980,1985,1990,1995,2000,2005,2010,2015,2020],"labelExpr":"datum.value % 10 == 0 ? '' + datum.value : ''","grid":true,"gridColor":{"condition":{"test":"datum.value % 10 != 0","value":"transparent"},"value":"#999999"}}},
  "y":{"field":"v","type":"quantitative","scale":{"domain":[-9.5,15],"nice":false,"zero":false},"axis":{"values":[-5,0,5,10],"labelExpr":"datum.value == 0 || datum.value == 10 ? '' + datum.value : ''"}},
  "y2":{"datum":0},
  "color":{"datum":"NET RWM","scale":{"range":["#ff0000"]},"legend":{"legendX":11.5,"legendY":-11,"encode":{"symbols":{"update":{"stroke":{"value":"#ff0000"},"strokeWidth":{"value":2.5}}}}}}}},
{"width":404,"height":71,"data":{"name":"MTL"},"mark":{"type":"area","clip":true},
 "encoding":{
  "x":{"field":"t","type":"quantitative","scale":{"domain":[1960,2021.6],"nice":false,"zero":false},"axis":{"values":[1960,1965,1970,1975,1980,1985,1990,1995,2000,2005,2010,2015,2020],"labelExpr":"datum.value % 10 == 0 ? '' + datum.value : ''","grid":true,"gridColor":{"condition":{"test":"datum.value % 10 != 0","value":"transparent"},"value":"#999999"}}},
  "y":{"field":"v","type":"quantitative","scale":{"domain":[-10,10],"nice":false,"zero":false},"axis":{"values":[-5,0,5],"labelExpr":"datum.value == 0 ? '' : '' + datum.value"}},
  "y2":{"datum":0},
  "color":{"datum":"NET MTL","scale":{"range":["#ff0000"]},"legend":{"legendX":16,"legendY":-16,"encode":{"symbols":{"update":{"stroke":{"value":"#ff0000"},"strokeWidth":{"value":2.5}}}}}}}},
{"width":404,"height":71,"data":{"name":"PRC"},"mark":{"type":"area","clip":true},
 "encoding":{
  "x":{"field":"t","type":"quantitative","scale":{"domain":[1960,2021.6],"nice":false,"zero":false},"axis":{"values":[1960,1965,1970,1975,1980,1985,1990,1995,2000,2005,2010,2015,2020],"labelExpr":"datum.value % 10 == 0 ? '' + datum.value : ''","grid":true,"gridColor":{"condition":{"test":"datum.value % 10 != 0","value":"transparent"},"value":"#999999"}}},
  "y":{"field":"v","type":"quantitative","scale":{"domain":[-10,40],"nice":false,"zero":false},"axis":{"values":[0,20,40],"labelExpr":"datum.value == 20 ? '' : '' + datum.value"}},
  "y2":{"datum":0},
  "color":{"datum":"NET PRC","scale":{"range":["#ff0000"]},"legend":{"legendX":142.5,"legendY":-10.4,"encode":{"symbols":{"update":{"stroke":{"value":"#ff0000"},"strokeWidth":{"value":2.5}}}}}}}},
{"width":404,"height":71,"data":{"name":"MU"},"mark":{"type":"area","clip":true},
 "encoding":{
  "x":{"field":"t","type":"quantitative","scale":{"domain":[1960,2021.6],"nice":false,"zero":false},"axis":{"values":[1960,1965,1970,1975,1980,1985,1990,1995,2000,2005,2010,2015,2020],"labelExpr":"datum.value % 10 == 0 ? '' + datum.value : ''","grid":true,"gridColor":{"condition":{"test":"datum.value % 10 != 0","value":"transparent"},"value":"#999999"}}},
  "y":{"field":"v","type":"quantitative","scale":{"domain":[-10,40],"nice":false,"zero":false},"axis":{"values":[0,20,40],"labelExpr":"datum.value == 20 ? '' : '' + datum.value"}},
  "y2":{"datum":0},
  "color":{"datum":"NET MU","scale":{"range":["#ff0000"]},"legend":{"legendX":12.5,"legendY":-12,"encode":{"symbols":{"update":{"stroke":{"value":"#ff0000"},"strokeWidth":{"value":2.5}}}}}}}}
]
}
